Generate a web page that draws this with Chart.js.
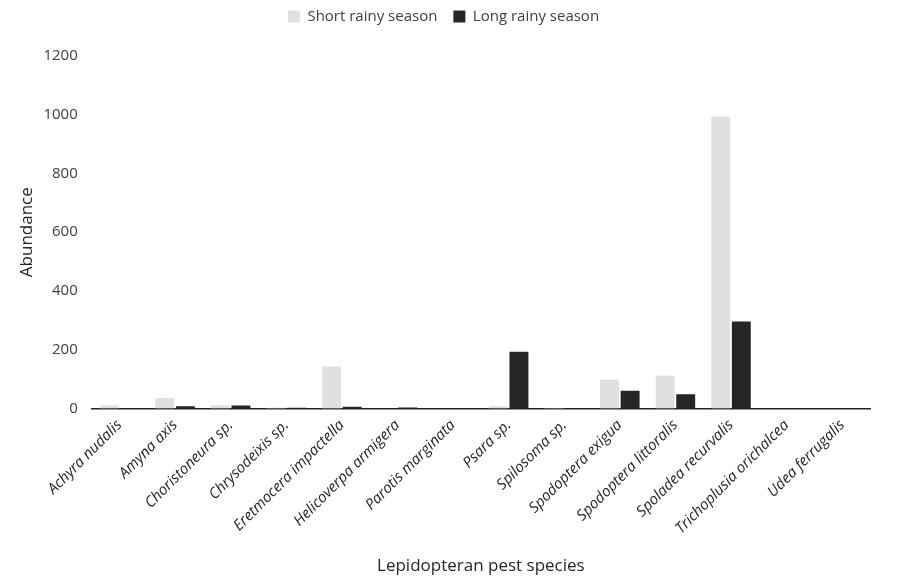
<!DOCTYPE html>
<html>
<head>
<meta charset="utf-8">
<script src="https://cdn.jsdelivr.net/npm/chart.js@4/dist/chart.umd.min.js"></script>
<style>
  html, body { margin: 0; padding: 0; background: #fff; }
  #wrap { width: 901px; height: 580px; }
</style>
</head>
<body>
<div id="wrap"><canvas id="myChart" width="901" height="580"></canvas></div>
<script>
const species = [
  'Achyra nudalis', 'Amyna axis', 'Choristoneura sp.', 'Chrysodeixis sp.',
  'Eretmocera impactella', 'Helicoverpa armigera', 'Parotis marginata', 'Psara sp.',
  'Spilosoma sp.', 'Spodoptera exigua', 'Spodoptera littoralis', 'Spoladea recurvalis',
  'Trichoplusia orichalcea', 'Udea ferrugalis'
];
const shortRainy = [10, 35, 11, 2, 143, 0, 0, 7, 1, 98, 111, 993, 0, 0];
const longRainy = [0, 7, 10, 2, 6, 3, 1, 193, 1, 60, 48, 296, 0, 0];
const yTicks = [0, 200, 400, 600, 800, 1000, 1200];

// push plot area down a bit below the legend
const legendGap = {
  id: 'legendGap',
  beforeInit(chart) {
    const fit = chart.legend.fit;
    chart.legend.fit = function () {
      fit.bind(chart.legend)();
      this.height += 22;
    };
  }
};

const ctx = document.getElementById('myChart').getContext('2d');

const chart = new Chart(ctx, {
  type: 'bar',
  data: {
    labels: species,
    datasets: [{
      label: 'Short rainy season',
      data: shortRainy,
      backgroundColor: '#e0e0e0',
      categoryPercentage: 0.74,
      barPercentage: 0.92
    }, {
      label: 'Long rainy season',
      data: longRainy,
      backgroundColor: '#262626',
      categoryPercentage: 0.74,
      barPercentage: 0.92
    }]
  },
  plugins: [legendGap],
  options: {
    responsive: false,
    animation: false,
    layout: {
      padding: { left: 17, right: 31, top: -7, bottom: 4 }
    },
    plugins: {
      tooltip: { enabled: false },
      legend: {
        position: 'top',
        labels: {
          boxWidth: 12,
          boxHeight: 12,
          padding: 16,
          color: '#404040',
          font: { family: 'Open Sans', size: 15 }
        }
      }
    },
    scales: {
      x: {
        grid: { display: false, drawTicks: false },
        border: { display: true, color: '#262626', width: 1.5 },
        ticks: {
          maxRotation: 45,
          minRotation: 45,
          padding: 8,
          color: '#262626',
          font: { family: 'Open Sans', size: 15, style: 'italic' }
        },
        title: {
          display: true,
          text: 'Lepidopteran pest species',
          color: '#262626',
          padding: { top: 10, bottom: 0 },
          font: { family: 'Open Sans', size: 17 }
        }
      },
      y: {
        min: 0,
        max: 1200,
        afterBuildTicks: (axis) => {
          axis.ticks = yTicks.map(v => ({ value: v }));
        },
        grid: { display: false, drawTicks: false },
        border: { display: false },
        ticks: {
          padding: 14,
          color: '#404040',
          font: { family: 'Open Sans', size: 15 },
          callback: (v) => String(v)
        },
        title: {
          display: true,
          text: 'Abundance',
          color: '#262626',
          padding: { top: 0, bottom: -8 },
          font: { family: 'Open Sans', size: 17 }
        }
      }
    }
  }
});
</script>
</body>
</html>
